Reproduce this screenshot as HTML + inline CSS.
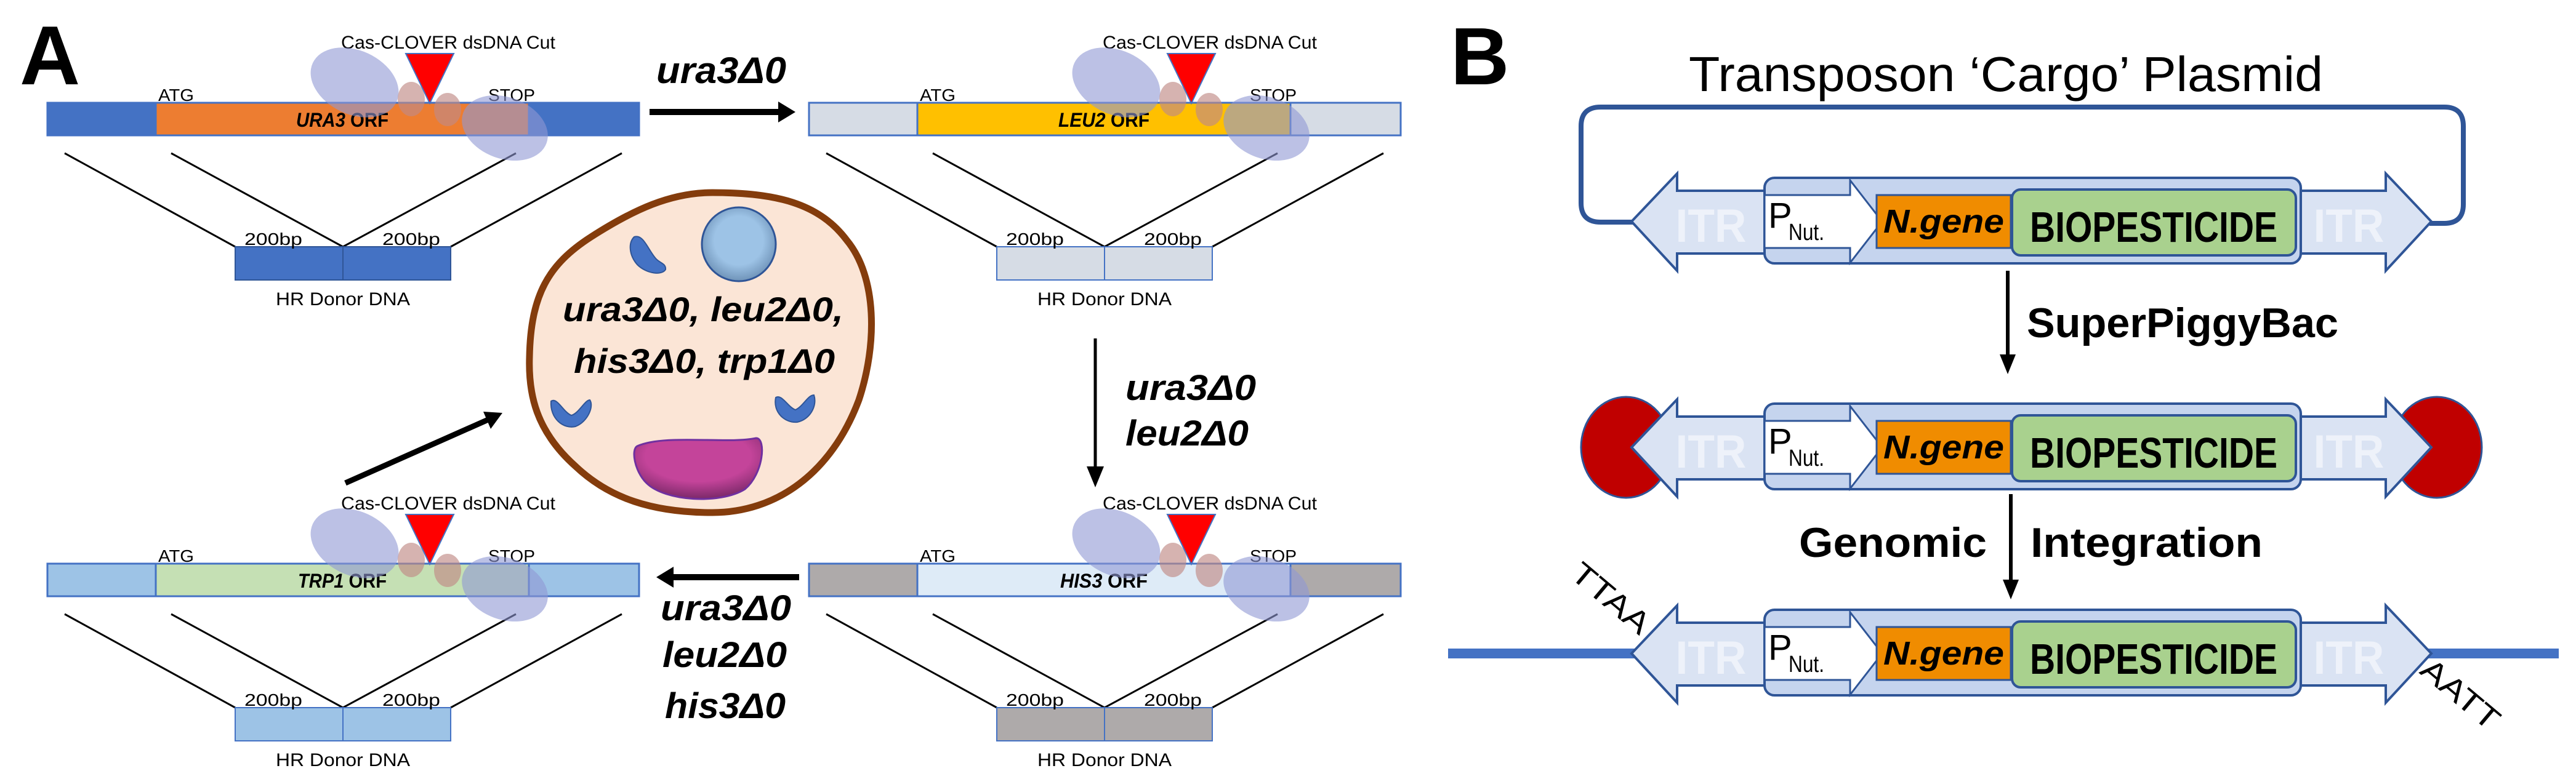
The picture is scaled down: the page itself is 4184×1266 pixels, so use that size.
<!DOCTYPE html>
<html><head><meta charset="utf-8"><style>html,body{margin:0;padding:0;background:#fff}svg{display:block}</style></head><body>
<svg width="4184" height="1266" viewBox="0 0 4184 1266" xmlns="http://www.w3.org/2000/svg" font-family="'Liberation Sans', sans-serif">
<defs>
<radialGradient id="nuc" cx="0.5" cy="0.45" r="0.55"><stop offset="0.6" stop-color="#9dc3e6"/><stop offset="1" stop-color="#6f93b8"/></radialGradient>
<radialGradient id="vac" cx="0.5" cy="0.3" r="0.75"><stop offset="0.55" stop-color="#c4449a"/><stop offset="1" stop-color="#6e2460"/></radialGradient>
</defs>
<rect width="4184" height="1266" fill="#fff"/>
<text x="32" y="137" font-size="136" font-weight="bold">A</text>
<text x="2356" y="137" font-size="132" font-weight="bold">B</text>

<!-- Unit 1 -->
<g>
<line x1="105" y1="249" x2="382" y2="401" stroke="#000" stroke-width="3"/>
<line x1="278" y1="249" x2="557" y2="401" stroke="#000" stroke-width="3"/>
<line x1="838" y1="249" x2="557" y2="401" stroke="#000" stroke-width="3"/>
<line x1="1010" y1="249" x2="732" y2="401" stroke="#000" stroke-width="3"/>
<rect x="77" y="167" width="961" height="53" fill="#4472c4" stroke="#4472c4" stroke-width="3"/>
<rect x="253" y="167" width="606" height="53" fill="#ed7d31" stroke="#4472c4" stroke-width="3"/>
<text x="556" y="206" font-size="32" font-weight="bold" text-anchor="middle" textLength="150" lengthAdjust="spacingAndGlyphs"><tspan font-style="italic">URA3</tspan> ORF</text>
<text x="257" y="164" font-size="28" textLength="58" lengthAdjust="spacingAndGlyphs">ATG</text>
<text x="793" y="164" font-size="28" textLength="76" lengthAdjust="spacingAndGlyphs">STOP</text>
<text x="554" y="79" font-size="30" textLength="348" lengthAdjust="spacingAndGlyphs">Cas-CLOVER dsDNA Cut</text>
<ellipse cx="576" cy="134" rx="75" ry="52" transform="rotate(25 576 134)" fill="#8f97d4" opacity="0.6"/>
<ellipse cx="820" cy="208" rx="72" ry="50" transform="rotate(20 820 208)" fill="#8f97d4" opacity="0.6"/>
<ellipse cx="668" cy="161" rx="22" ry="28" fill="#c08a86" opacity="0.65"/>
<ellipse cx="727" cy="178" rx="22" ry="27" fill="#c08a86" opacity="0.65"/>
<polygon points="659,87 737,87 698,168" fill="#ff0000" stroke="#4472c4" stroke-width="2"/>
<rect x="382" y="401" width="175" height="54" fill="#4472c4" stroke="#2f5597" stroke-width="2"/>
<rect x="557" y="401" width="175" height="54" fill="#4472c4" stroke="#2f5597" stroke-width="2"/>
<text x="397" y="398" font-size="28" textLength="94" lengthAdjust="spacingAndGlyphs">200bp</text>
<text x="621" y="398" font-size="28" textLength="94" lengthAdjust="spacingAndGlyphs">200bp</text>
<text x="557" y="496" font-size="30" text-anchor="middle" textLength="218" lengthAdjust="spacingAndGlyphs">HR Donor DNA</text>
</g>

<!-- Unit 2 -->
<g transform="translate(1237,0)">
<line x1="105" y1="249" x2="382" y2="401" stroke="#000" stroke-width="3"/>
<line x1="278" y1="249" x2="557" y2="401" stroke="#000" stroke-width="3"/>
<line x1="838" y1="249" x2="557" y2="401" stroke="#000" stroke-width="3"/>
<line x1="1010" y1="249" x2="732" y2="401" stroke="#000" stroke-width="3"/>
<rect x="77" y="167" width="961" height="53" fill="#d6dce5" stroke="#4472c4" stroke-width="3"/>
<rect x="253" y="167" width="606" height="53" fill="#ffc000" stroke="#4472c4" stroke-width="3"/>
<text x="556" y="206" font-size="32" font-weight="bold" text-anchor="middle" textLength="148" lengthAdjust="spacingAndGlyphs"><tspan font-style="italic">LEU2</tspan> ORF</text>
<text x="257" y="164" font-size="28" textLength="58" lengthAdjust="spacingAndGlyphs">ATG</text>
<text x="793" y="164" font-size="28" textLength="76" lengthAdjust="spacingAndGlyphs">STOP</text>
<text x="554" y="79" font-size="30" textLength="348" lengthAdjust="spacingAndGlyphs">Cas-CLOVER dsDNA Cut</text>
<ellipse cx="576" cy="134" rx="75" ry="52" transform="rotate(25 576 134)" fill="#8f97d4" opacity="0.6"/>
<ellipse cx="820" cy="208" rx="72" ry="50" transform="rotate(20 820 208)" fill="#8f97d4" opacity="0.6"/>
<ellipse cx="668" cy="161" rx="22" ry="28" fill="#c08a86" opacity="0.65"/>
<ellipse cx="727" cy="178" rx="22" ry="27" fill="#c08a86" opacity="0.65"/>
<polygon points="659,87 737,87 698,168" fill="#ff0000" stroke="#4472c4" stroke-width="2"/>
<rect x="382" y="401" width="175" height="54" fill="#d6dce5" stroke="#4472c4" stroke-width="2"/>
<rect x="557" y="401" width="175" height="54" fill="#d6dce5" stroke="#4472c4" stroke-width="2"/>
<text x="397" y="398" font-size="28" textLength="94" lengthAdjust="spacingAndGlyphs">200bp</text>
<text x="621" y="398" font-size="28" textLength="94" lengthAdjust="spacingAndGlyphs">200bp</text>
<text x="557" y="496" font-size="30" text-anchor="middle" textLength="218" lengthAdjust="spacingAndGlyphs">HR Donor DNA</text>
</g>

<!-- Unit 3 -->
<g transform="translate(1237,749)">
<line x1="105" y1="249" x2="382" y2="401" stroke="#000" stroke-width="3"/>
<line x1="278" y1="249" x2="557" y2="401" stroke="#000" stroke-width="3"/>
<line x1="838" y1="249" x2="557" y2="401" stroke="#000" stroke-width="3"/>
<line x1="1010" y1="249" x2="732" y2="401" stroke="#000" stroke-width="3"/>
<rect x="77" y="167" width="961" height="53" fill="#aeaaaa" stroke="#4472c4" stroke-width="3"/>
<rect x="253" y="167" width="606" height="53" fill="#deebf7" stroke="#4472c4" stroke-width="3"/>
<text x="556" y="206" font-size="32" font-weight="bold" text-anchor="middle" textLength="142" lengthAdjust="spacingAndGlyphs"><tspan font-style="italic">HIS3</tspan> ORF</text>
<text x="257" y="164" font-size="28" textLength="58" lengthAdjust="spacingAndGlyphs">ATG</text>
<text x="793" y="164" font-size="28" textLength="76" lengthAdjust="spacingAndGlyphs">STOP</text>
<text x="554" y="79" font-size="30" textLength="348" lengthAdjust="spacingAndGlyphs">Cas-CLOVER dsDNA Cut</text>
<ellipse cx="576" cy="134" rx="75" ry="52" transform="rotate(25 576 134)" fill="#8f97d4" opacity="0.6"/>
<ellipse cx="820" cy="208" rx="72" ry="50" transform="rotate(20 820 208)" fill="#8f97d4" opacity="0.6"/>
<ellipse cx="668" cy="161" rx="22" ry="28" fill="#c08a86" opacity="0.65"/>
<ellipse cx="727" cy="178" rx="22" ry="27" fill="#c08a86" opacity="0.65"/>
<polygon points="659,87 737,87 698,168" fill="#ff0000" stroke="#4472c4" stroke-width="2"/>
<rect x="382" y="401" width="175" height="54" fill="#aeaaaa" stroke="#4472c4" stroke-width="2"/>
<rect x="557" y="401" width="175" height="54" fill="#aeaaaa" stroke="#4472c4" stroke-width="2"/>
<text x="397" y="398" font-size="28" textLength="94" lengthAdjust="spacingAndGlyphs">200bp</text>
<text x="621" y="398" font-size="28" textLength="94" lengthAdjust="spacingAndGlyphs">200bp</text>
<text x="557" y="496" font-size="30" text-anchor="middle" textLength="218" lengthAdjust="spacingAndGlyphs">HR Donor DNA</text>
</g>

<!-- Unit 4 -->
<g transform="translate(0,749)">
<line x1="105" y1="249" x2="382" y2="401" stroke="#000" stroke-width="3"/>
<line x1="278" y1="249" x2="557" y2="401" stroke="#000" stroke-width="3"/>
<line x1="838" y1="249" x2="557" y2="401" stroke="#000" stroke-width="3"/>
<line x1="1010" y1="249" x2="732" y2="401" stroke="#000" stroke-width="3"/>
<rect x="77" y="167" width="961" height="53" fill="#9dc3e6" stroke="#4472c4" stroke-width="3"/>
<rect x="253" y="167" width="606" height="53" fill="#c5e0b4" stroke="#4472c4" stroke-width="3"/>
<text x="556" y="206" font-size="32" font-weight="bold" text-anchor="middle" textLength="144" lengthAdjust="spacingAndGlyphs"><tspan font-style="italic">TRP1</tspan> ORF</text>
<text x="257" y="164" font-size="28" textLength="58" lengthAdjust="spacingAndGlyphs">ATG</text>
<text x="793" y="164" font-size="28" textLength="76" lengthAdjust="spacingAndGlyphs">STOP</text>
<text x="554" y="79" font-size="30" textLength="348" lengthAdjust="spacingAndGlyphs">Cas-CLOVER dsDNA Cut</text>
<ellipse cx="576" cy="134" rx="75" ry="52" transform="rotate(25 576 134)" fill="#8f97d4" opacity="0.6"/>
<ellipse cx="820" cy="208" rx="72" ry="50" transform="rotate(20 820 208)" fill="#8f97d4" opacity="0.6"/>
<ellipse cx="668" cy="161" rx="22" ry="28" fill="#c08a86" opacity="0.65"/>
<ellipse cx="727" cy="178" rx="22" ry="27" fill="#c08a86" opacity="0.65"/>
<polygon points="659,87 737,87 698,168" fill="#ff0000" stroke="#4472c4" stroke-width="2"/>
<rect x="382" y="401" width="175" height="54" fill="#9dc3e6" stroke="#4472c4" stroke-width="2"/>
<rect x="557" y="401" width="175" height="54" fill="#9dc3e6" stroke="#4472c4" stroke-width="2"/>
<text x="397" y="398" font-size="28" textLength="94" lengthAdjust="spacingAndGlyphs">200bp</text>
<text x="621" y="398" font-size="28" textLength="94" lengthAdjust="spacingAndGlyphs">200bp</text>
<text x="557" y="496" font-size="30" text-anchor="middle" textLength="218" lengthAdjust="spacingAndGlyphs">HR Donor DNA</text>
</g>

<!-- Panel A arrows -->
<line x1="1055" y1="182" x2="1268" y2="182" stroke="#000" stroke-width="10"/>
<polygon points="1292,182 1264,165 1264,199" fill="#000"/>
<text x="1066" y="135" font-size="60" font-weight="bold" font-style="italic" textLength="211" lengthAdjust="spacingAndGlyphs">ura3Δ0</text>

<line x1="1779" y1="550" x2="1779" y2="765" stroke="#000" stroke-width="5"/>
<polygon points="1779,792 1765,758 1793,758" fill="#000"/>
<text x="1828" y="650" font-size="58" font-weight="bold" font-style="italic" textLength="212" lengthAdjust="spacingAndGlyphs">ura3Δ0</text>
<text x="1828" y="724" font-size="58" font-weight="bold" font-style="italic" textLength="200" lengthAdjust="spacingAndGlyphs">leu2Δ0</text>

<line x1="1298" y1="938" x2="1090" y2="938" stroke="#000" stroke-width="10"/>
<polygon points="1066,938 1094,921 1094,955" fill="#000"/>
<text x="1073" y="1008" font-size="58" font-weight="bold" font-style="italic" textLength="212" lengthAdjust="spacingAndGlyphs">ura3Δ0</text>
<text x="1076" y="1084" font-size="58" font-weight="bold" font-style="italic" textLength="202" lengthAdjust="spacingAndGlyphs">leu2Δ0</text>
<text x="1080" y="1167" font-size="58" font-weight="bold" font-style="italic" textLength="196" lengthAdjust="spacingAndGlyphs">his3Δ0</text>

<line x1="561" y1="785" x2="795" y2="681" stroke="#000" stroke-width="9"/>
<polygon points="816,671 785,669 797,697" fill="#000"/>

<!-- Cell -->
<path d="M1157,313 C1260,313 1330,330 1375,390 C1425,450 1425,560 1395,650 C1350,770 1260,833 1157,833 C1060,833 990,810 935,758 C870,700 858,640 860,580 C862,480 890,430 960,385 C1030,340 1090,313 1157,313 Z" fill="#fbe5d6" stroke="#843c0c" stroke-width="11"/>
<ellipse cx="1200" cy="397" rx="60" ry="60" fill="url(#nuc)" stroke="#2f5597" stroke-width="3"/>
<path d="M1035,725 C1080,705 1180,722 1228,712 C1245,712 1240,770 1210,795 C1170,820 1080,815 1050,785 C1030,765 1025,730 1035,725 Z" fill="url(#vac)" stroke="#7030a0" stroke-width="3"/>
<path d="M1030,385 C1045,380 1052,405 1065,420 C1072,428 1082,428 1081,438 C1075,448 1050,445 1035,430 C1022,415 1020,395 1030,385 Z" fill="#4472c4" stroke="#2f5597" stroke-width="2"/>
<path d="M895,652 C905,645 915,670 928,675 C940,672 950,650 958,650 C965,660 955,685 935,693 C915,698 893,680 895,652 Z" fill="#4472c4" stroke="#2f5597" stroke-width="2"/>
<path d="M1260,646 C1270,640 1280,662 1292,666 C1305,660 1312,642 1322,642 C1328,660 1315,682 1295,686 C1275,688 1255,670 1260,646 Z" fill="#4472c4" stroke="#2f5597" stroke-width="2"/>
<text x="1142" y="522" font-size="56" font-weight="bold" font-style="italic" text-anchor="middle" textLength="456" lengthAdjust="spacingAndGlyphs">ura3Δ0, leu2Δ0,</text>
<text x="1144" y="606" font-size="56" font-weight="bold" font-style="italic" text-anchor="middle" textLength="424" lengthAdjust="spacingAndGlyphs">his3Δ0, trp1Δ0</text>

<!-- Panel B -->
<text x="2743" y="148" font-size="80" textLength="1030" lengthAdjust="spacingAndGlyphs">Transposon ‘Cargo’ Plasmid</text>
<path d="M2655,361 L2600,361 Q2568,361 2568,330 L2568,205 Q2568,174 2600,174 L3970,174 Q4001,174 4001,205 L4001,332 Q4001,363 3970,363 L3946,363" fill="none" stroke="#2f5597" stroke-width="8"/>

<line x1="2352" y1="1062" x2="4156" y2="1062" stroke="#4472c4" stroke-width="16"/>
<ellipse cx="2641" cy="727" rx="73" ry="82" fill="#c00000" stroke="#2f5597" stroke-width="3"/>
<ellipse cx="3958" cy="727" rx="73" ry="82" fill="#c00000" stroke="#2f5597" stroke-width="3"/>

<g>
<polygon points="2650,360 2724,282 2724,310 2870,310 2870,412 2724,412 2724,440" fill="#dae3f3" stroke="#2f5597" stroke-width="4"/>
<polygon points="3949,360 3875,282 3875,310 3730,310 3730,412 3875,412 3875,440" fill="#dae3f3" stroke="#2f5597" stroke-width="4"/>
<rect x="2866" y="289" width="871" height="139" rx="16" fill="#c5d4ee" stroke="#2f5597" stroke-width="4"/>
<polygon points="2866,317 3005,317 3005,293 3057,360 3005,427 3005,403 2866,403" fill="#fff" stroke="#2f5597" stroke-width="3"/>
<rect x="3048" y="317" width="218" height="86" fill="#f08c00" stroke="#2f5597" stroke-width="3"/>
<rect x="3268" y="308" width="461" height="107" rx="14" fill="#a9d18e" stroke="#2f5597" stroke-width="4"/>
<text x="2779" y="393" font-size="76" font-weight="bold" fill="#eef2fa" text-anchor="middle" textLength="115" lengthAdjust="spacingAndGlyphs">ITR</text>
<text x="3815" y="393" font-size="76" font-weight="bold" fill="#eef2fa" text-anchor="middle" textLength="115" lengthAdjust="spacingAndGlyphs">ITR</text>
<text x="2872" y="370" font-size="58">P</text>
<text x="2905" y="390" font-size="38" textLength="58" lengthAdjust="spacingAndGlyphs">Nut.</text>
<text x="3157" y="378" font-size="54" font-weight="bold" font-style="italic" text-anchor="middle" textLength="196" lengthAdjust="spacingAndGlyphs">N.gene</text>
<text x="3498" y="393" font-size="70" font-weight="bold" text-anchor="middle" textLength="402" lengthAdjust="spacingAndGlyphs">BIOPESTICIDE</text>
</g>
<g transform="translate(0,367)">
<polygon points="2650,360 2724,282 2724,310 2870,310 2870,412 2724,412 2724,440" fill="#dae3f3" stroke="#2f5597" stroke-width="4"/>
<polygon points="3949,360 3875,282 3875,310 3730,310 3730,412 3875,412 3875,440" fill="#dae3f3" stroke="#2f5597" stroke-width="4"/>
<rect x="2866" y="289" width="871" height="139" rx="16" fill="#c5d4ee" stroke="#2f5597" stroke-width="4"/>
<polygon points="2866,317 3005,317 3005,293 3057,360 3005,427 3005,403 2866,403" fill="#fff" stroke="#2f5597" stroke-width="3"/>
<rect x="3048" y="317" width="218" height="86" fill="#f08c00" stroke="#2f5597" stroke-width="3"/>
<rect x="3268" y="308" width="461" height="107" rx="14" fill="#a9d18e" stroke="#2f5597" stroke-width="4"/>
<text x="2779" y="393" font-size="76" font-weight="bold" fill="#eef2fa" text-anchor="middle" textLength="115" lengthAdjust="spacingAndGlyphs">ITR</text>
<text x="3815" y="393" font-size="76" font-weight="bold" fill="#eef2fa" text-anchor="middle" textLength="115" lengthAdjust="spacingAndGlyphs">ITR</text>
<text x="2872" y="370" font-size="58">P</text>
<text x="2905" y="390" font-size="38" textLength="58" lengthAdjust="spacingAndGlyphs">Nut.</text>
<text x="3157" y="378" font-size="54" font-weight="bold" font-style="italic" text-anchor="middle" textLength="196" lengthAdjust="spacingAndGlyphs">N.gene</text>
<text x="3498" y="393" font-size="70" font-weight="bold" text-anchor="middle" textLength="402" lengthAdjust="spacingAndGlyphs">BIOPESTICIDE</text>
</g>
<g transform="translate(0,702)">
<polygon points="2650,360 2724,282 2724,310 2870,310 2870,412 2724,412 2724,440" fill="#dae3f3" stroke="#2f5597" stroke-width="4"/>
<polygon points="3949,360 3875,282 3875,310 3730,310 3730,412 3875,412 3875,440" fill="#dae3f3" stroke="#2f5597" stroke-width="4"/>
<rect x="2866" y="289" width="871" height="139" rx="16" fill="#c5d4ee" stroke="#2f5597" stroke-width="4"/>
<polygon points="2866,317 3005,317 3005,293 3057,360 3005,427 3005,403 2866,403" fill="#fff" stroke="#2f5597" stroke-width="3"/>
<rect x="3048" y="317" width="218" height="86" fill="#f08c00" stroke="#2f5597" stroke-width="3"/>
<rect x="3268" y="308" width="461" height="107" rx="14" fill="#a9d18e" stroke="#2f5597" stroke-width="4"/>
<text x="2779" y="393" font-size="76" font-weight="bold" fill="#eef2fa" text-anchor="middle" textLength="115" lengthAdjust="spacingAndGlyphs">ITR</text>
<text x="3815" y="393" font-size="76" font-weight="bold" fill="#eef2fa" text-anchor="middle" textLength="115" lengthAdjust="spacingAndGlyphs">ITR</text>
<text x="2872" y="370" font-size="58">P</text>
<text x="2905" y="390" font-size="38" textLength="58" lengthAdjust="spacingAndGlyphs">Nut.</text>
<text x="3157" y="378" font-size="54" font-weight="bold" font-style="italic" text-anchor="middle" textLength="196" lengthAdjust="spacingAndGlyphs">N.gene</text>
<text x="3498" y="393" font-size="70" font-weight="bold" text-anchor="middle" textLength="402" lengthAdjust="spacingAndGlyphs">BIOPESTICIDE</text>
</g>

<line x1="3261" y1="440" x2="3261" y2="580" stroke="#000" stroke-width="6"/>
<polygon points="3261,608 3248,576 3274,576" fill="#000"/>
<text x="3292" y="548" font-size="68" font-weight="bold" textLength="506" lengthAdjust="spacingAndGlyphs">SuperPiggyBac</text>
<line x1="3266" y1="803" x2="3266" y2="945" stroke="#000" stroke-width="6"/>
<polygon points="3266,974 3253,942 3279,942" fill="#000"/>
<text x="2922" y="905" font-size="68" font-weight="bold" textLength="305" lengthAdjust="spacingAndGlyphs">Genomic</text>
<text x="3298" y="905" font-size="68" font-weight="bold" textLength="377" lengthAdjust="spacingAndGlyphs">Integration</text>
<text x="0" y="0" font-size="50" transform="translate(2548,937) rotate(40)" textLength="150" lengthAdjust="spacingAndGlyphs">TTAA</text>
<text x="0" y="0" font-size="50" transform="translate(3928,1093) rotate(40)" textLength="150" lengthAdjust="spacingAndGlyphs">AATT</text>
</svg>
</body></html>
